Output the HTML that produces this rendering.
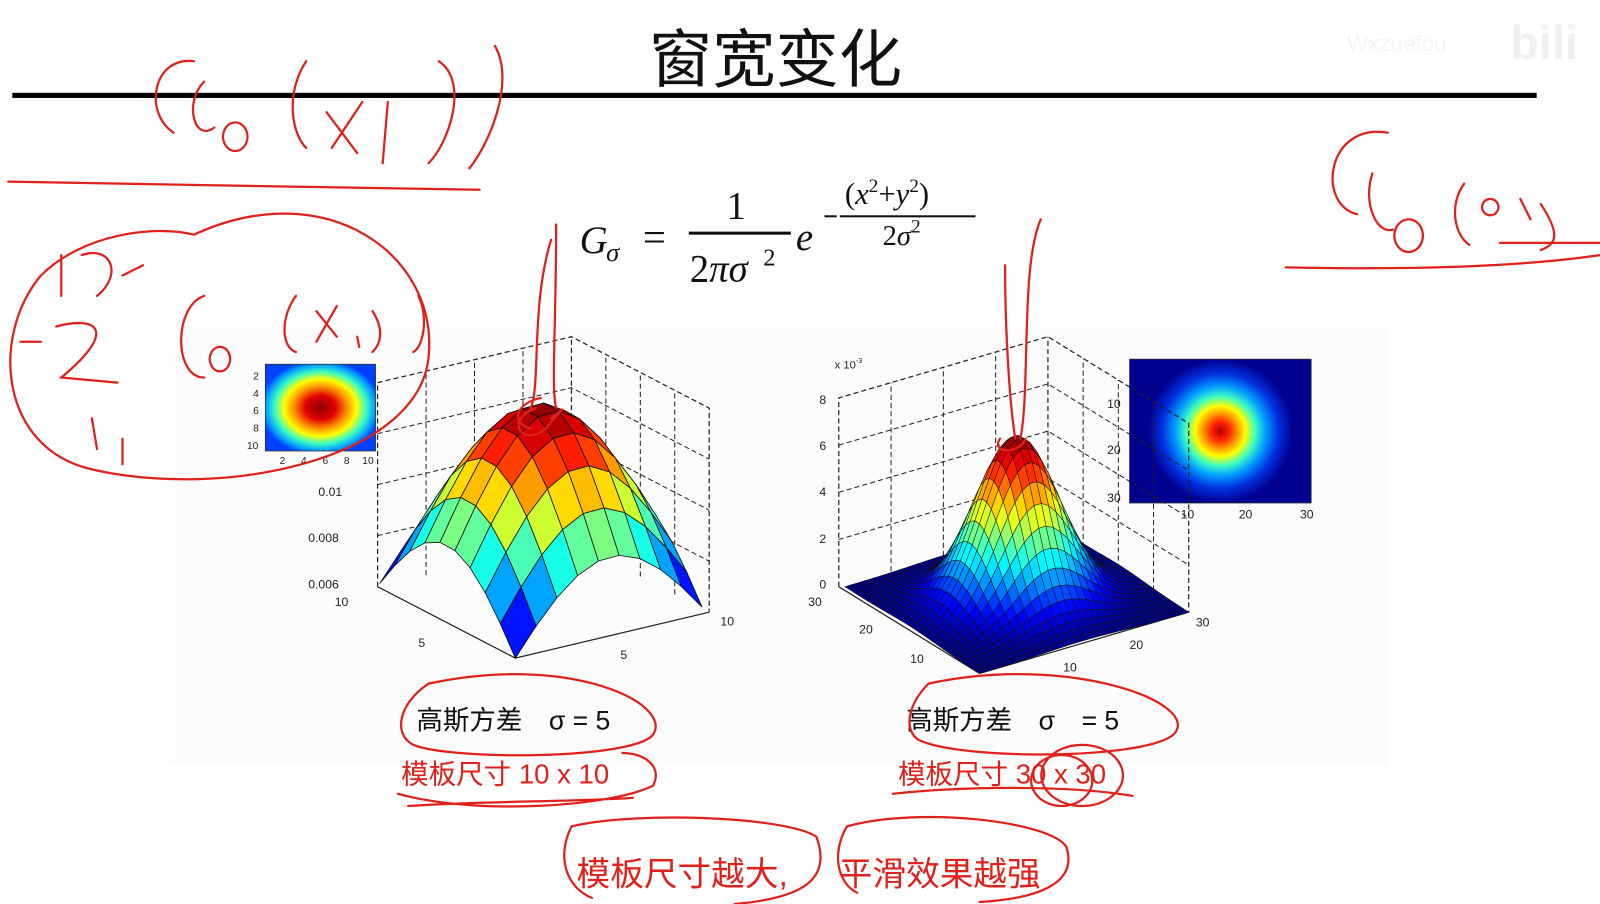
<!DOCTYPE html>
<html><head><meta charset="utf-8"><style>
html,body{margin:0;padding:0;background:#fff;}
svg{display:block;}
.t{font-family:"Liberation Sans","Noto Sans CJK SC",sans-serif;}
.m{font-family:"Liberation Serif",serif;font-style:italic;}
</style></head><body>
<svg id="s" width="1600" height="904" viewBox="0 0 1568 886" xmlns="http://www.w3.org/2000/svg">
<rect width="1568" height="886" fill="#fff"/>
<rect x="165" y="320" width="1195" height="430" fill="#fcfcfc"/>
<text x="760" y="80" class="t" font-size="62" text-anchor="middle" fill="#111">窗宽变化</text>
<rect x="12" y="91" width="1494" height="5" fill="#000"/>
<text x="1320" y="50" class="t" font-size="22" fill="#f4f4f4">Wxzuefou</text>
<text x="1480" y="58" class="t" font-size="46" font-weight="bold" fill="#f0f0f0">bili</text>
<!-- formula -->
<g fill="#111">
<text x="568" y="248" class="m" font-size="38">G</text>
<text x="594" y="256" class="m" font-size="26">σ</text>
<text x="630" y="246" font-family="Liberation Serif" font-size="40">=</text>
<text x="712" y="214" font-family="Liberation Serif" font-size="38">1</text>
<rect x="675" y="227" width="100" height="3"/>
<text x="676" y="276" font-family="Liberation Serif" font-size="38">2<tspan class="m">πσ</tspan></text>
<text x="748" y="260" font-family="Liberation Serif" font-size="24">2</text>
<text x="780" y="245" class="m" font-size="38">e</text>
<rect x="808" y="211" width="12" height="2"/>
<text x="828" y="200" font-family="Liberation Serif" font-size="30">(<tspan class="m">x</tspan><tspan font-size="19" dy="-12">2</tspan><tspan dy="12">+</tspan><tspan class="m">y</tspan><tspan font-size="19" dy="-12">2</tspan><tspan dy="12">)</tspan></text>
<rect x="823" y="211" width="133" height="2"/>
<text x="865" y="240" font-family="Liberation Serif" font-size="28">2<tspan class="m">σ</tspan><tspan font-size="19" dy="-12">2</tspan></text>
</g>
<defs>
<radialGradient id="hl" cx="50%" cy="50%" r="55%">
<stop offset="0" stop-color="#8b0000"/><stop offset="0.25" stop-color="#e00000"/><stop offset="0.45" stop-color="#ff9900"/><stop offset="0.6" stop-color="#ffff00"/><stop offset="0.75" stop-color="#40ffc0"/><stop offset="0.9" stop-color="#00a0ff"/><stop offset="1" stop-color="#0040ff"/></radialGradient>
<radialGradient id="hr" cx="50%" cy="50%" r="50%" gradientTransform="translate(0.5 0.5) scale(0.8 1) translate(-0.5 -0.5)">
<stop offset="0" stop-color="#b00000"/><stop offset="0.12" stop-color="#ff2000"/><stop offset="0.25" stop-color="#ffa000"/><stop offset="0.35" stop-color="#ffff00"/><stop offset="0.48" stop-color="#40ffc0"/><stop offset="0.62" stop-color="#00a0ff"/><stop offset="0.8" stop-color="#0030e0"/><stop offset="1" stop-color="#000090"/></radialGradient>
</defs>
<rect x="260" y="357" width="108" height="85" fill="url(#hl)" stroke="#333" stroke-width="0.8"/>
<rect x="1107" y="352" width="178" height="141" fill="url(#hr)" stroke="#333" stroke-width="0.8"/>
<g class="t" font-size="10" fill="#222">
<text x="248" y="372">2</text><text x="248" y="389">4</text><text x="248" y="406">6</text><text x="248" y="423">8</text><text x="242" y="440">10</text>
<text x="274" y="455">2</text><text x="295" y="455">4</text><text x="316" y="455">6</text><text x="337" y="455">8</text><text x="355" y="455">10</text>
<text x="1085" y="400" font-size="12">10</text><text x="1085" y="445" font-size="12">20</text><text x="1085" y="492" font-size="12">30</text>
<text x="1157" y="508" font-size="12">10</text><text x="1214" y="508" font-size="12">20</text><text x="1274" y="508" font-size="12">30</text>
<text x="312" y="486" font-size="12">0.01</text><text x="302" y="531" font-size="12">0.008</text><text x="302" y="577" font-size="12">0.006</text>
<text x="328" y="594" font-size="12">10</text><text x="410" y="634" font-size="12">5</text><text x="608" y="646" font-size="12">5</text><text x="706" y="613" font-size="12">10</text>
<text x="818" y="361" font-size="11">x 10<tspan font-size="7" dy="-5">-3</tspan></text>
<text x="803" y="396" font-size="12">8</text><text x="803" y="441" font-size="12">6</text><text x="803" y="486" font-size="12">4</text><text x="803" y="532" font-size="12">2</text><text x="803" y="577" font-size="12">0</text>
<text x="792" y="594" font-size="12">30</text><text x="842" y="621" font-size="12">20</text><text x="892" y="650" font-size="12">10</text>
<text x="1172" y="614" font-size="12">30</text><text x="1107" y="636" font-size="12">20</text><text x="1042" y="658" font-size="12">10</text>
</g>
<g id="plots"></g>
<!-- captions -->
<g class="t" font-size="26" fill="#111">
<text x="408" y="715">高斯方差　σ = 5</text>
<text x="888" y="715">高斯方差　σ　= 5</text>
</g>
<g class="t" font-size="27" fill="#e0201a">
<text x="393" y="768">模板尺寸 10 x 10</text>
<text x="880" y="768">模板尺寸 30 x 30</text>
<text x="565" y="868" font-size="33">模板尺寸越大,</text>
<text x="822" y="868" font-size="33">平滑效果越强</text>
</g>
<!-- red annotations -->
<g fill="none" stroke="#e0201a" stroke-width="2.2" stroke-linecap="round">
<path d="M190 60 C150 55 140 110 170 130 M200 80 C180 100 190 140 210 125 M230 120 a12 14 0 1 0 1 0 M300 60 C280 90 285 130 300 145 M320 110 L350 150 M355 100 L325 145 M380 100 L375 160 M430 60 C460 80 440 140 420 160 M485 45 C505 80 480 140 460 165"/>
<path d="M8 178 C150 180 350 185 470 186"/>
<path d="M190 230 C320 170 430 250 420 350 C410 450 220 490 90 460 C0 440 -10 330 40 270 C80 230 150 220 190 230"/>
<path d="M60 250 L60 290 M80 250 C110 240 120 270 95 290 M120 270 L140 260 M55 320 C90 310 120 320 60 370 L115 375 M90 410 L95 440 M120 430 L120 455 M20 335 L40 335"/>
<path d="M200 290 C170 300 170 370 200 370 M215 340 a10 12 0 1 0 1 0 M290 290 C275 310 275 340 290 345 M310 305 L330 330 M330 300 L310 335 M350 330 L352 340 M365 305 C375 320 375 335 365 345 M410 290 C420 310 415 340 405 345"/>
<path d="M1360 130 C1300 120 1290 200 1330 210 M1345 170 C1335 200 1350 230 1365 225 M1380 215 a14 16 0 1 0 1 0 M1435 180 C1420 200 1425 230 1440 240 M1460 195 a8 8 0 1 0 1 0 M1490 195 L1500 215 M1510 200 C1530 230 1525 240 1510 245 M1470 238 L1568 238"/>
<path d="M1260 262 C1400 265 1500 260 1568 250"/>
<g id="ann"></g>
<path d="M420 670 C560 640 660 690 640 720 C620 745 440 745 405 730 C385 720 390 690 420 670"/>
<path d="M390 778 C470 800 600 790 640 770 C650 750 630 738 610 738 M400 790 C470 785 560 786 620 782"/>
<path d="M910 670 C1050 640 1180 690 1150 720 C1120 745 940 745 900 725 C885 715 890 690 910 670"/>
<path d="M875 778 C950 770 1050 770 1110 780 M1060 730 a40 30 0 1 0 1 0 M1040 740 a30 25 0 1 0 1 0"/>
<path d="M560 810 C620 795 770 800 800 820 C815 860 790 880 720 886 M560 810 C545 840 555 870 580 880"/>
<path d="M830 810 C900 790 1030 805 1045 830 C1055 860 1030 880 960 884 M830 810 C815 835 820 865 840 875"/>
</g>
</svg>
<script>
function jet(t){t=Math.max(0,Math.min(1,t));
function c(x){return Math.round(255*Math.max(0,Math.min(1,x)));}
var r=c(1.5-Math.abs(4*t-3)),g=c(1.5-Math.abs(4*t-2)),b=c(1.5-Math.abs(4*t-1));
return 'rgb('+r+','+g+','+b+')';}
var NS='http://www.w3.org/2000/svg',G=document.getElementById('plots');
function el(n,a,par){var e=document.createElementNS(NS,n);for(var k in a)e.setAttribute(k,a[k]);(par||G).appendChild(e);return e;}
function box(F,L,R,B,H){
 var Bt=[B[0],B[1]-H],Lt=[L[0],L[1]-H],Rt=[R[0],R[1]-H];
 var d='M'+L+' L'+Lt+' L'+Bt+' L'+Rt+' L'+R+' M'+B+' L'+Bt;
 el('path',{d:d,fill:'none',stroke:'#222','stroke-width':1.2,'stroke-dasharray':'5,3'});
 for(var k=1;k<4;k++){var h=H*k/4;
  el('path',{d:'M'+L[0]+','+(L[1]-h)+' L'+B[0]+','+(B[1]-h)+' L'+R[0]+','+(R[1]-h),fill:'none',stroke:'#222','stroke-width':1,'stroke-dasharray':'5,3'});}
 for(var k=1;k<4;k++){var p=[L[0]+(B[0]-L[0])*k/4,L[1]+(B[1]-L[1])*k/4],q=[B[0]+(R[0]-B[0])*k/4,B[1]+(R[1]-B[1])*k/4];
  el('path',{d:'M'+p+' l0,'+(-H)+' M'+q+' l0,'+(-H),fill:'none',stroke:'#222','stroke-width':1,'stroke-dasharray':'5,3'});}
 el('path',{d:'M'+L+' L'+F+' L'+R,fill:'none',stroke:'#222','stroke-width':1.2});
}
function surf(F,L,R,ht,N,sig,zmin,edge){
 var c=(N-1)/2,gmin=Math.exp(-(2*c*c)/(2*sig*sig));
 function z(i,j){var g=Math.exp(-((i-c)*(i-c)+(j-c)*(j-c))/(2*sig*sig));return (g-zmin*gmin)/(1-zmin*gmin);}
 function P(i,j){var a=i/(N-1),b=j/(N-1);var zz=z(i,j);
  return [F[0]+a*(L[0]-F[0])+b*(R[0]-F[0]),F[1]+a*(L[1]-F[1])+b*(R[1]-F[1])-zz*ht];}
 var faces=[];
 for(var i=0;i<N-1;i++)for(var j=0;j<N-1;j++)faces.push([i,j]);
 faces.sort(function(a,b){return (b[0]+b[1])-(a[0]+a[1]);});
 faces.forEach(function(f){var i=f[0],j=f[1];
  var zz=(z(i,j)+z(i+1,j)+z(i,j+1)+z(i+1,j+1))/4;
  var pts=[P(i,j),P(i+1,j),P(i+1,j+1),P(i,j+1)];
  el('polygon',{points:pts.join(' '),fill:jet(zz),stroke:'#111','stroke-width':edge});});
}
box([505,645],[370,575],[695,600],[560,530],200);
surf([505,645],[372,572],[688,595],185,10,5,1,0.8);
box([960,660],[822,575],[1165,600],[1027,515],185);
surf([960,660],[828,575],[1165,600],160,30,5,1,0.5);
var A=document.getElementById('ann');
el('path',{d:"M540 235 C520 300 530 380 520 400 M545 220 C545 320 540 380 545 400 M525 400 C495 410 510 440 535 420 C550 400 560 395 540 410 M530 390 C505 395 500 415 520 420",fill:'none',stroke:'#e0201a','stroke-width':2.2},A);
el('path',{d:"M1020 215 C1000 260 1010 380 1000 430 M985 260 C985 330 990 400 995 430 M980 430 C970 445 1000 445 1005 430",fill:'none',stroke:'#e0201a','stroke-width':2.2},A);
document.getElementById('s').appendChild(A.parentNode);
</script>
</body></html>
